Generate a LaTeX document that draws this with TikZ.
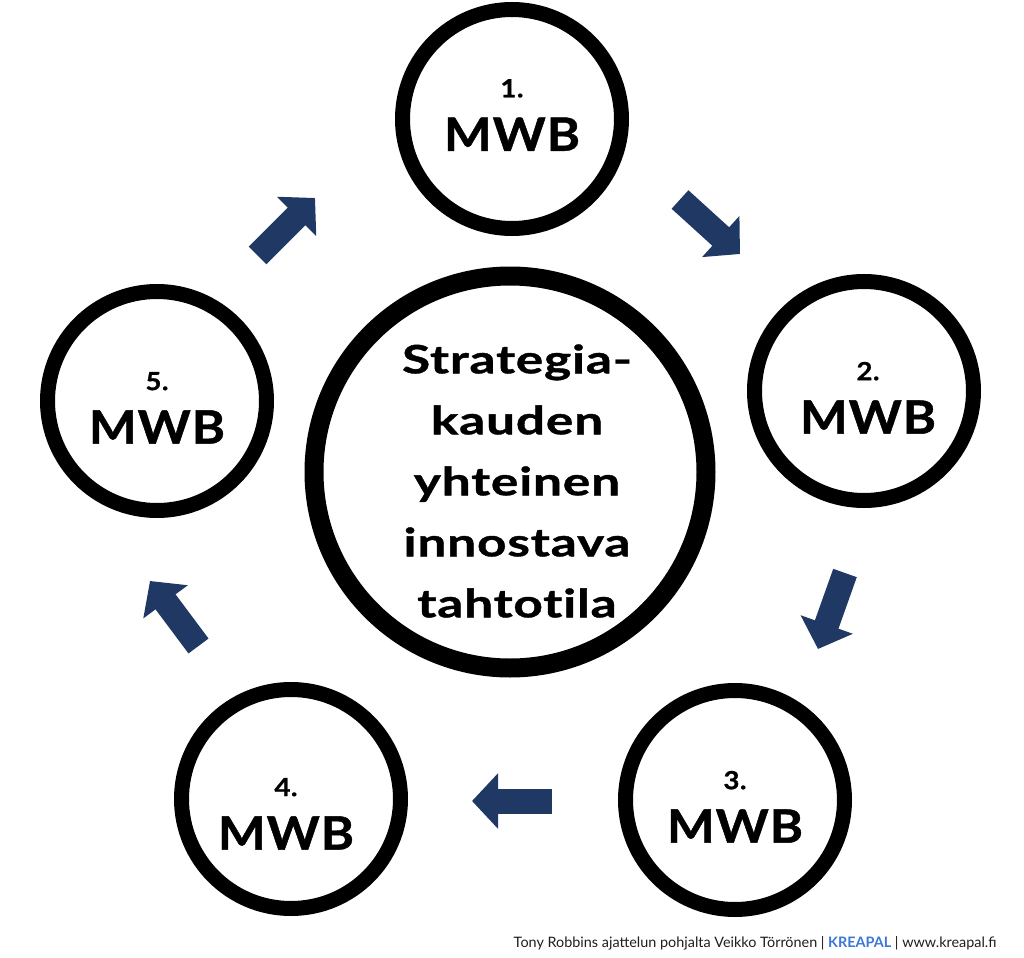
\documentclass[tikz,border=0pt]{standalone}
\usepackage{fontspec}
\setmainfont{Lato}
\IfFontExistsTF{Lato Black}
  {\newfontfamily\heavyfont{Lato Black}[FakeStretch=1.32, LetterSpace=2, FakeBold=1, Ligatures=NoCommon]
   \newfontfamily\mwbfont{Lato Black}[FakeStretch=1.1, LetterSpace=2, FakeBold=1]}
  {\newfontfamily\heavyfont{Lato}[FakeStretch=1.42, LetterSpace=2, FakeBold=1.5, Ligatures=NoCommon]
   \newfontfamily\mwbfont{Lato}[FakeStretch=1.1, LetterSpace=2, FakeBold=1.5]}
\usetikzlibrary{arrows.meta}

\definecolor{navy}{RGB}{31,56,100}
\definecolor{kreablue}{RGB}{59,120,216}
\definecolor{footgray}{RGB}{30,30,30}

\tikzset{
  ring/.style={circle, draw=black, line width=7.5pt, minimum size=109.5pt, inner sep=0pt},
  bigring/.style={circle, draw=black, line width=9.5pt, minimum size=196pt, inner sep=0pt},
  mwb/.style={align=center, inner sep=0pt, font=\mwbfont\bfseries\fontsize{23}{26.75}\selectfont},
  goal/.style={align=center, inner sep=0pt, font=\heavyfont\bfseries\fontsize{19.5}{30.5}\selectfont},
  flow/.style={navy, line width=12.5pt, -{Triangle[width=27pt,length=13pt]}},
}
\newcommand{\stepno}[1]{{\fontsize{12.5}{26.75}\selectfont #1}}

\begin{document}
\begin{tikzpicture}[x=0.5pt, y=-0.5pt]
  \useasboundingbox (0,0) rectangle (1024,958);

  % centre
  \node[bigring, label={[goal, xshift=3.5pt, yshift=-4.5pt]center:{Strategia-\\kauden\\yhteinen\\innostava\\tahtotila}}] (goal) at (510,472) {};

  % the five steps
  \node[ring, label={[mwb, yshift=2pt]center:{\stepno{1.}\\MWB}}] (c1) at (512,119) {};
  \node[ring, label={[mwb, xshift=2pt, yshift=-3.4pt]center:{\stepno{2.}\\MWB}}] (c2) at (864,391) {};
  \node[ring, label={[mwb, yshift=-3.4pt]center:{\stepno{3.}\\MWB}}] (c3) at (735,800) {};
  \node[ring, label={[mwb, xshift=-2.5pt, yshift=-7.4pt]center:{\stepno{4.}\\MWB}}] (c4) at (291,799) {};
  \node[ring, label={[mwb, yshift=-3.4pt]center:{\stepno{5.}\\MWB}}] (c5) at (157,401) {};

  % arrow ends
  \coordinate (a12) at (680,199.5);   \coordinate (b12) at (740,254);
  \coordinate (a23) at (845,573);     \coordinate (b23) at (818,649);
  \coordinate (a34) at (552,801);     \coordinate (b34) at (472,801);
  \coordinate (a45) at (198.5,646);   \coordinate (b45) at (150,581);
  \coordinate (a51) at (257.5,255.5); \coordinate (b51) at (315,198);

  \draw[flow] (a12) -- (b12);
  \draw[flow] (a23) -- (b23);
  \draw[flow] (a34) -- (b34);
  \draw[flow] (a45) -- (b45);
  \draw[flow] (a51) -- (b51);

  % footer
  \node[anchor=base east, inner sep=0pt, text=footgray, font=\fontsize{7.2}{8}\selectfont] (credit) at (997,947)
    {Tony Robbins ajattelun pohjalta Veikko Törrönen | \textcolor{kreablue}{\bfseries KREAPAL} | www.kreapal.fi};
\end{tikzpicture}
\end{document}
